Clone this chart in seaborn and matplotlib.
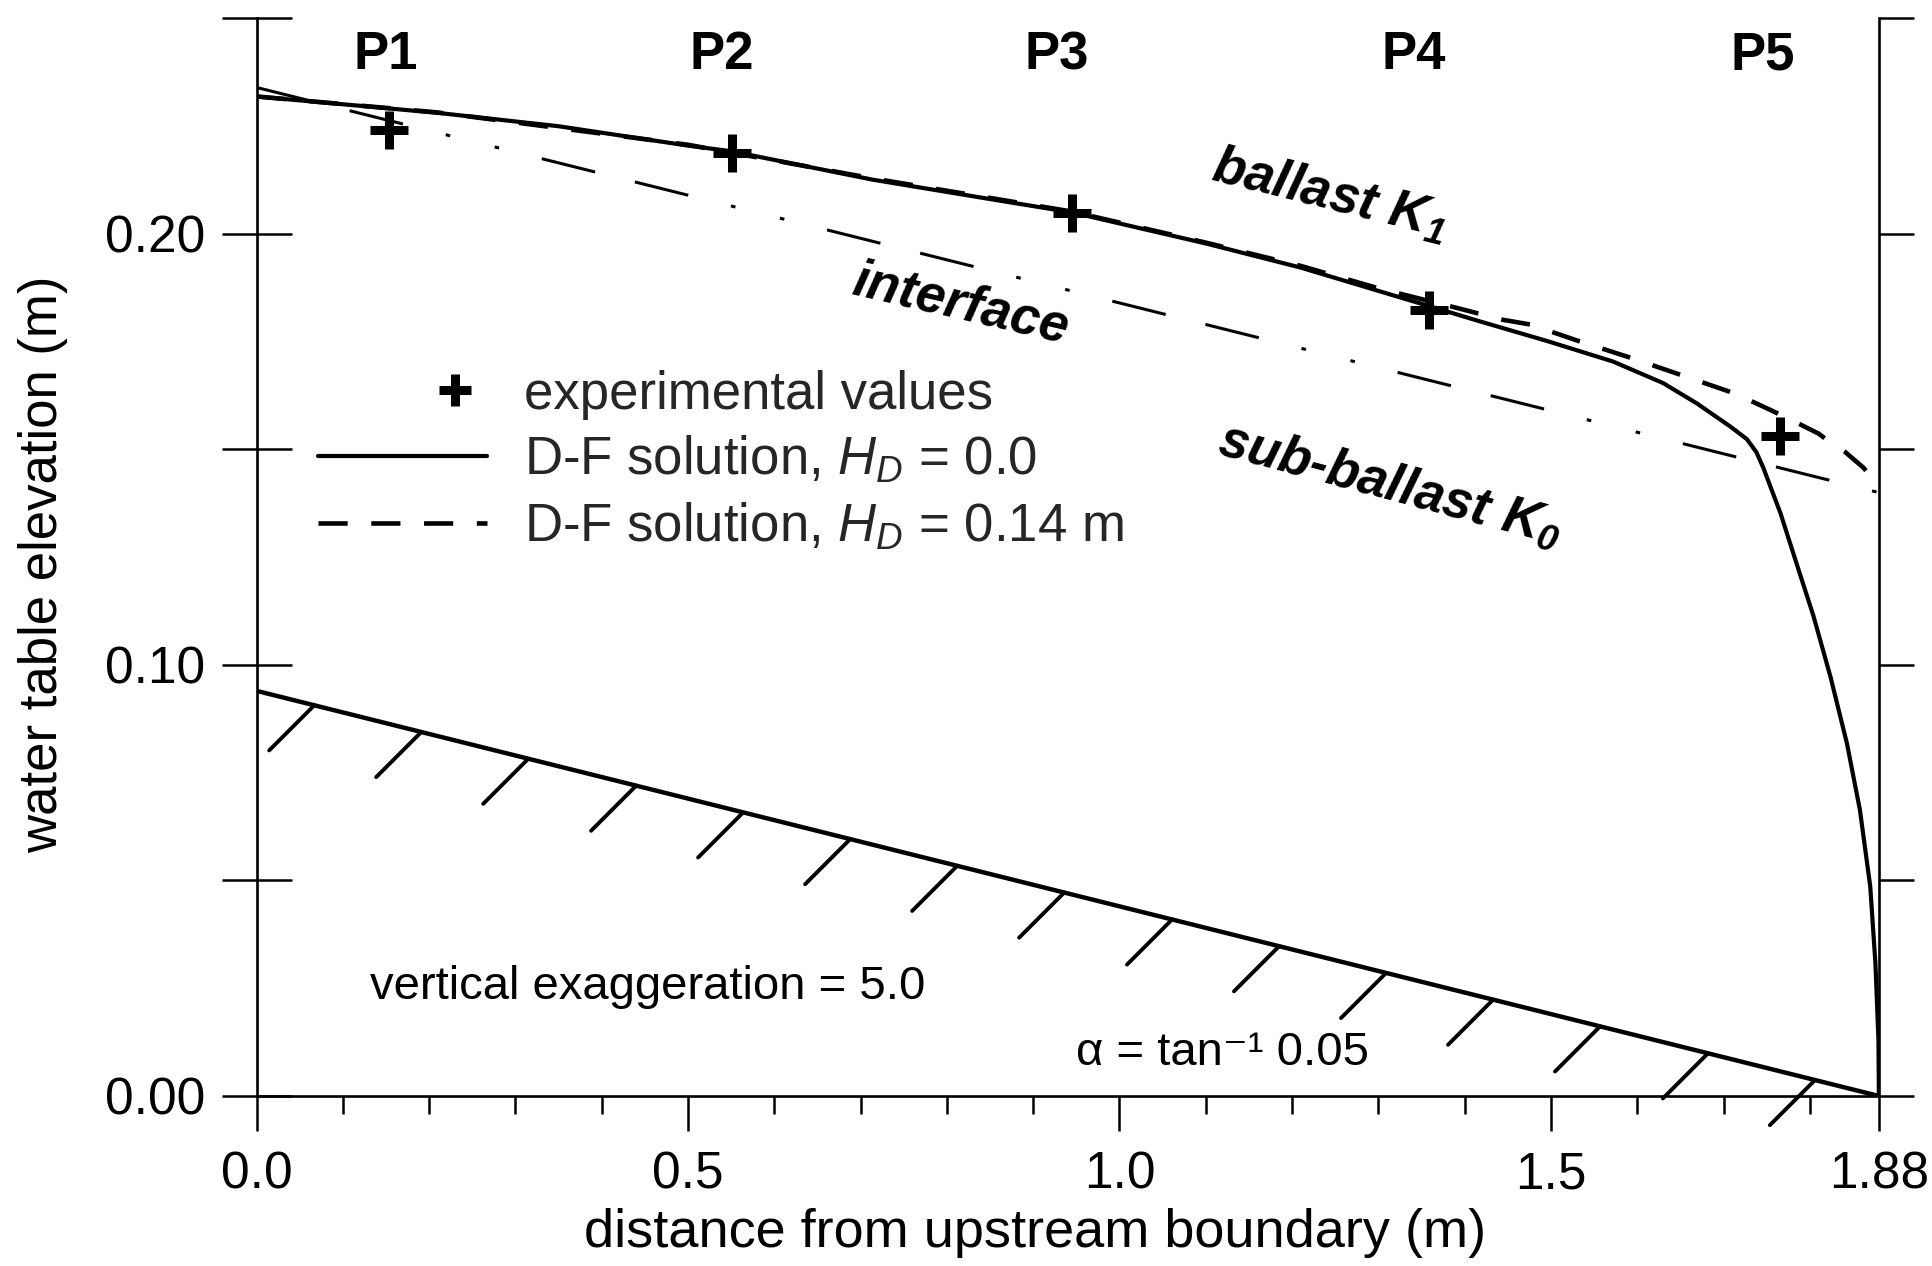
import numpy as np
import pandas as pd
import matplotlib
matplotlib.use("Agg")
import matplotlib.pyplot as plt
import seaborn as sns

# ---- data -------------------------------------------------------------
# piezometer readings (experimental values)
piezo_names = ["P1", "P2", "P3", "P4", "P5"]
piezo_x = [0.153, 0.551, 0.945, 1.359, 1.766]
piezo_h = [0.2242, 0.2188, 0.2048, 0.1823, 0.1532]
piezo_label_x = [0.150, 0.539, 0.927, 1.341, 1.746]

# Dupuit-Forchheimer solution, H_D = 0.0
df0_x = [0.0, 0.10, 0.21, 0.35, 0.50, 0.55, 0.714, 0.85, 0.945, 1.10,
         1.21, 1.30, 1.36, 1.418, 1.495, 1.572, 1.630, 1.669, 1.708, 1.727,
         1.738, 1.746, 1.766, 1.785, 1.804, 1.824, 1.843, 1.858, 1.870,
         1.876, 1.8795, 1.88]
df0_h = [0.2319, 0.2301, 0.2281, 0.2250, 0.2205, 0.2192, 0.2126, 0.2081,
         0.2050, 0.1978, 0.1922, 0.1868, 0.1832, 0.1797, 0.1752, 0.1704,
         0.1654, 0.1607, 0.1553, 0.1524, 0.1494, 0.1458, 0.1352, 0.1233,
         0.1115, 0.0972, 0.0818, 0.0664, 0.0486, 0.0308, 0.0130, 0.0]

# Dupuit-Forchheimer solution, H_D = 0.14 m
df14_x = [0.0, 0.21, 0.50, 0.714, 0.945, 1.10, 1.21, 1.30, 1.384, 1.444,
          1.476, 1.53, 1.592, 1.652, 1.713, 1.754, 1.790, 1.810, 1.824,
          1.841, 1.862, 1.871, 1.88]
df14_h = [0.2319, 0.2282, 0.2207, 0.2129, 0.2052, 0.1980, 0.1926, 0.1874,
          0.1832, 0.1801, 0.1790, 0.1753, 0.1713, 0.1672, 0.1630, 0.1592,
          0.1557, 0.1537, 0.1516, 0.1494, 0.1458, 0.1437, 0.1405]

# ballast / sub-ballast interface and impermeable base
interface_x = [0.0, 1.88]
interface_h = [0.234, 0.140]
base_x = [0.0, 1.88]
base_h = [0.094, 0.0]
hatch_x = [0.067, 0.191, 0.315, 0.440, 0.564, 0.688, 0.812, 0.936, 1.061,
           1.185, 1.309, 1.433, 1.557, 1.682, 1.806]

x_major = [0.0, 0.5, 1.0, 1.5, 1.88]
x_major_labels = ["0.0", "0.5", "1.0", "1.5", "1.88"]
x_minor = [0.1, 0.2, 0.3, 0.4, 0.6, 0.7, 0.8, 0.9, 1.1, 1.2, 1.3, 1.4,
           1.6, 1.7, 1.8]
y_major = [0.0, 0.1, 0.2]
y_major_labels = ["0.00", "0.10", "0.20"]
y_minor = [0.05, 0.15, 0.25]

# ---- style ------------------------------------------------------------
sns.set_theme(style="white")
plt.rcParams["font.family"] = ["Liberation Sans", "DejaVu Sans"]
plt.rcParams["mathtext.fontset"] = "custom"
plt.rcParams["mathtext.rm"] = "Liberation Sans"
plt.rcParams["mathtext.it"] = "Liberation Sans:italic"
plt.rcParams["mathtext.bf"] = "Liberation Sans:bold"
try:
    plt.rcParams["mathtext.bfit"] = "Liberation Sans:bold:italic"
    K1, K0 = r"$\mathbfit{K_1}$", r"$\mathbfit{K_0}$"
except KeyError:
    K1, K0 = r"$K_1$", r"$K_0$"
plt.rcParams["lines.scale_dashes"] = False
plt.rcParams["axes.edgecolor"] = "black"

FS = 38
INK = "black"

fig = plt.figure(figsize=(19.33, 12.66), dpi=100)
fig.patch.set_facecolor("white")
ax = fig.add_axes([0.1327, 0.1343, 0.8393, 0.8511])
ax.set_facecolor("white")

# ---- curves -----------------------------------------------------------
sns.lineplot(x=base_x, y=base_h, ax=ax, color=INK, lw=3.2, legend=False)
sns.lineplot(x=interface_x, y=interface_h, ax=ax, color=INK, lw=2.2,
             linestyle=(0, (39.6, 29.5, 39.6, 31.7, 3.3, 33.0, 3.3, 31.7)),
             legend=False)
sns.lineplot(x=df14_x, y=df14_h, ax=ax, color=INK, lw=3.3,
             linestyle=(0, (21, 17)), legend=False)
sns.lineplot(x=df0_x, y=df0_h, ax=ax, color=INK, lw=3.0, legend=False)
sns.lineplot(x=piezo_x, y=piezo_h, ax=ax, color=INK, linestyle="none",
             marker="+", markersize=27, markeredgewidth=6.5,
             markeredgecolor=INK, legend=False)
line_df14, line_df0, line_exp = ax.lines[2], ax.lines[3], ax.lines[4]

# hatching below the sloping base
for hx in hatch_x:
    hy = np.interp(hx, base_x, base_h)
    ax.annotate("", xy=(hx, hy), xytext=(-32.5, -32.5),
                textcoords="offset points", annotation_clip=False,
                arrowprops=dict(arrowstyle="-", lw=2.8, color=INK,
                                shrinkA=0, shrinkB=0))

# piezometer labels
for name, lx in zip(piezo_names, piezo_label_x):
    ax.text(lx, 0.2415, name, ha="center", va="center", fontsize=FS,
            fontweight="bold", color=INK)

# layer annotations
ax.text(1.244, 0.2092, "ballast " + K1, rotation=-14, rotation_mode="anchor",
        ha="center", va="center", fontsize=FS, fontweight="bold",
        style="italic", color=INK)
ax.text(0.816, 0.1837, "interface", rotation=-13, rotation_mode="anchor",
        ha="center", va="center", fontsize=FS, fontweight="bold",
        style="italic", color=INK)
ax.text(1.314, 0.1419, "sub-ballast " + K0, rotation=-15,
        rotation_mode="anchor", ha="center", va="center", fontsize=FS,
        fontweight="bold", style="italic", color=INK)
ax.text(0.132, 0.0225, "vertical exaggeration = 5.0", ha="left",
        va="baseline", fontsize=34, color=INK)
ax.text(0.950, 0.0072, "α = tan⁻¹ 0.05", ha="left",
        va="baseline", fontsize=34, color=INK)

# ---- legend -----------------------------------------------------------
leg = ax.legend([line_exp, line_df0, line_df14],
                ["experimental values",
                 r"D-F solution, $H_D$ = 0.0",
                 r"D-F solution, $H_D$ = 0.14 m"],
                loc="upper left", bbox_to_anchor=(0.038, 0.674),
                frameon=False, fontsize=FS, handlelength=3.2,
                handletextpad=0.7, labelspacing=0.28, borderpad=0,
                borderaxespad=0, numpoints=1, markerscale=0.85)
mk = leg.legend_handles[0]
xd = np.asarray(mk.get_xdata(), dtype=float)
if xd.size >= 3:
    xd = xd.copy()
    xd[1] = xd[0] + 0.81 * (xd[-1] - xd[0])
    mk.set_xdata(xd)

# ---- axes -------------------------------------------------------------
ax.set_xlim(0, 1.88)
ax.set_ylim(0, 0.25)
ax.set_xticks(x_major)
ax.set_xticklabels(x_major_labels)
ax.set_xticks(x_minor, minor=True)
ax.set_yticks(y_major)
ax.set_yticklabels(y_major_labels)
ax.set_yticks(y_minor, minor=True)
ax.tick_params(axis="x", which="major", direction="out", length=25,
               width=1.8, pad=14, labelsize=37, bottom=True, top=False,
               colors=INK)
ax.tick_params(axis="x", which="minor", direction="out", length=13,
               width=1.8, bottom=True, top=False, colors=INK)
ax.tick_params(axis="y", which="both", direction="inout", length=50,
               width=1.8, pad=12, labelsize=37, left=True, right=False,
               colors=INK)
for side in ["left", "bottom"]:
    ax.spines[side].set_linewidth(1.9)
    ax.spines[side].set_color(INK)
ax.spines["top"].set_visible(False)
ax.spines["right"].set_visible(False)

ax.set_xlabel("distance from upstream boundary (m)", fontsize=39, color=INK)
ax.xaxis.set_label_coords(0.48, -0.104)
ax.set_ylabel("water table elevation (m)", fontsize=38, color=INK)
ax.yaxis.set_label_coords(-0.116, 0.493)

# right-hand scale
ax2 = ax.twinx()
ax2.set_ylim(0, 0.25)
ax2.set_yticks(y_major + y_minor)
ax2.tick_params(axis="y", which="major", direction="out", length=25,
                width=1.8, right=True, labelright=False, colors=INK)
for side in ["left", "top", "bottom"]:
    ax2.spines[side].set_visible(False)
ax2.spines["right"].set_linewidth(1.9)
ax2.spines["right"].set_color(INK)
ax2.grid(False)
ax.grid(False)

fig.savefig("out.png", dpi=100, facecolor="white")
